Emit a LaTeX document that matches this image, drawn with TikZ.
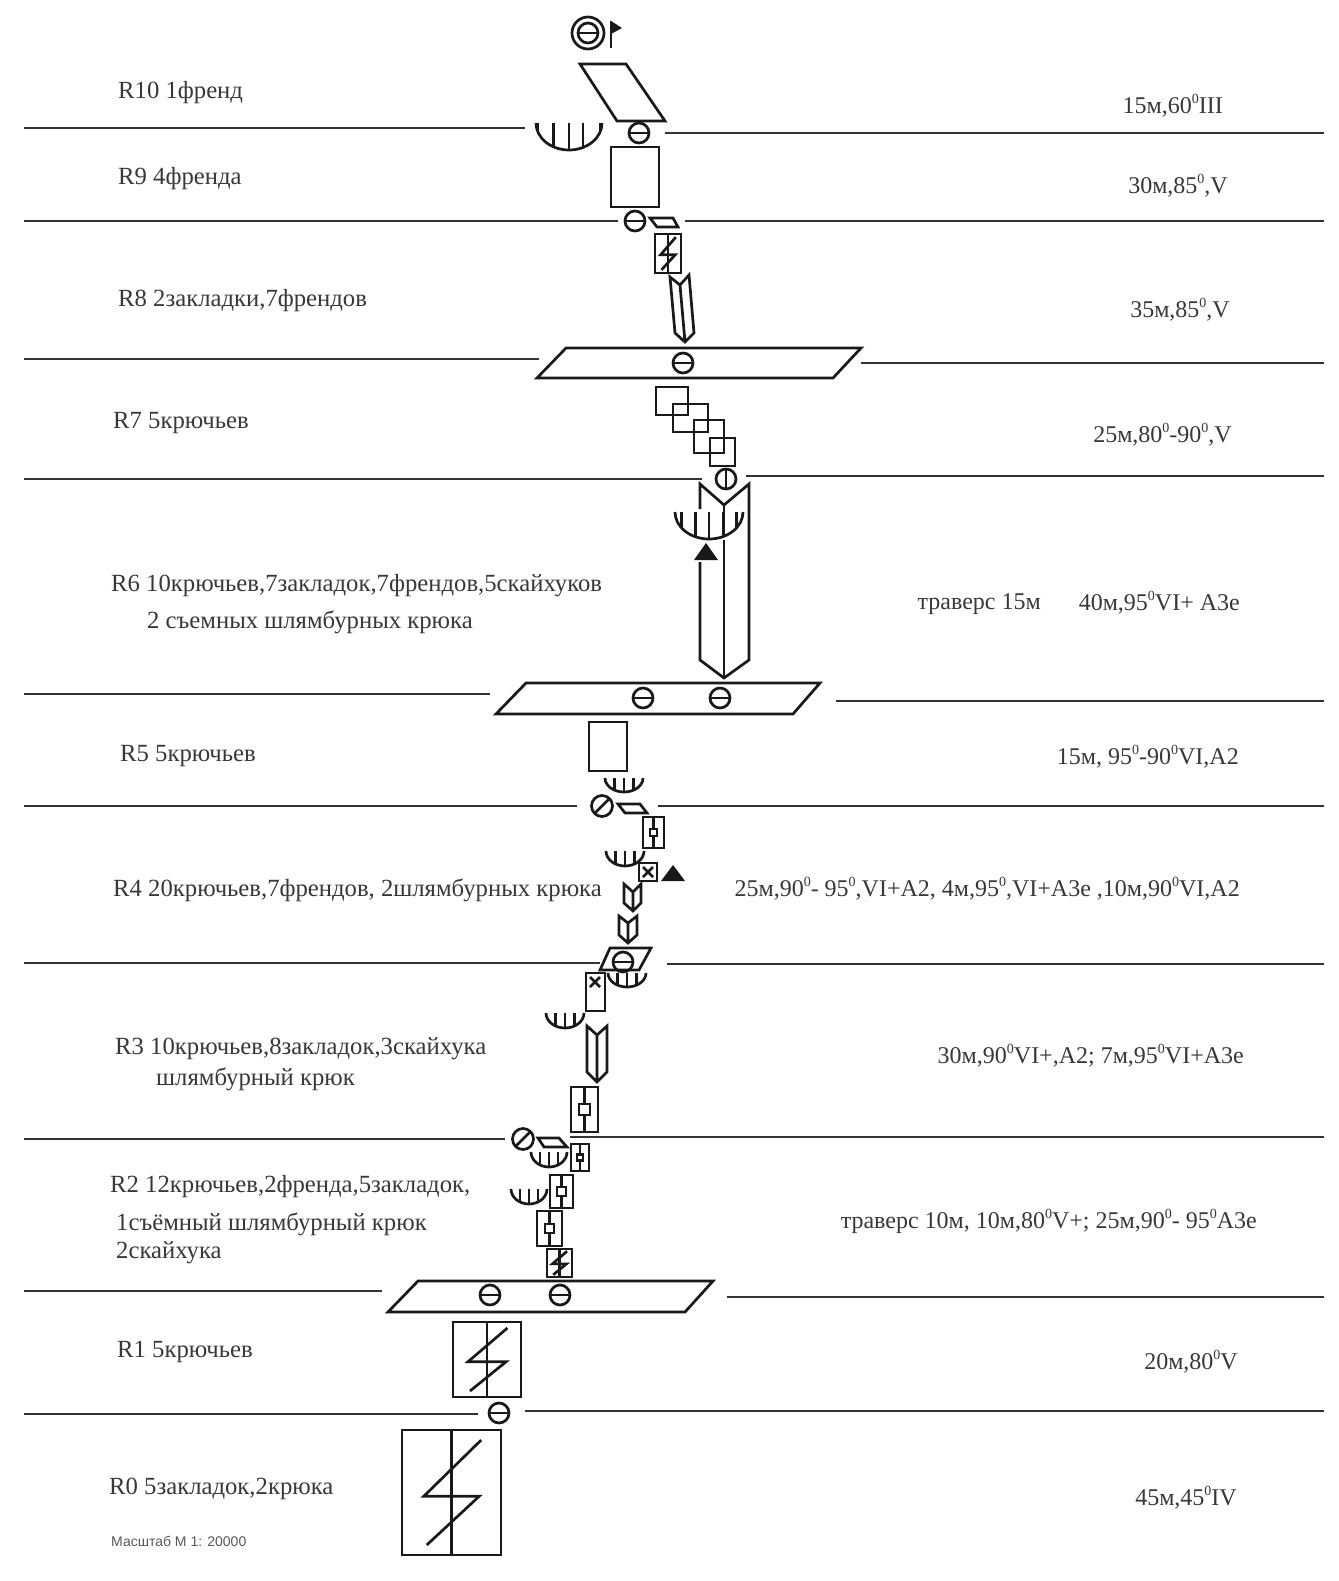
\documentclass[tikz,border=0pt]{standalone}
\usepackage{fontspec}
\setmainfont{Liberation Serif}
\newfontfamily\scalefont{Liberation Sans}
\usetikzlibrary{positioning,calc}
% x,y in reference pixels
\newcommand{\dg}{\raisebox{0.42em}{\fontsize{14}{14}\selectfont 0}}
\newcommand{\piton}[2]{\draw[sym] (#1,#2) circle (10pt); \draw[sym] (#1-10,#2) -- (#1+10,#2);}
\newcommand{\pitonv}[2]{\draw[sym] (#1,#2) circle (10pt); \draw[sym] (#1,#2-10) -- (#1,#2+10);}
\newcommand{\pitons}[2]{\draw[sym] (#1,#2) circle (10.5pt); \draw[sym] (#1-7.5,#2+7.5) -- (#1+7.5,#2-7.5);}
\newcommand{\roof}[5]{% cx, top, half width, depth, ticks
  \draw[sym] (#1-#3,#2) .. controls (#1-#3,#2+0.5523*#4) and (#1-0.5523*#3,#2+#4) .. (#1,#2+#4)
     .. controls (#1+0.5523*#3,#2+#4) and (#1+#3,#2+0.5523*#4) .. (#1+#3,#2);
  \foreach \t in {#5}
    \draw[sym] ({#1+\t*#3},#2) -- ({#1+\t*#3},{#2+#4*sqrt(1-\t*\t)});}
\newcommand{\crack}[4]{% chimney with bolt line
  \draw[sym] (#1,#2) rectangle (#3,#4);
  \draw[sym] ({(#1+#3)/2},#2) -- ({(#1+#3)/2},#4);
  \draw[sym] ({#1+0.8*(#3-#1)},{#2+0.08*(#4-#2)}) -- ({#1+0.22*(#3-#1)},{#2+0.53*(#4-#2)})
     -- ({#1+0.78*(#3-#1)},{#2+0.53*(#4-#2)}) -- ({#1+0.25*(#3-#1)},{#2+0.92*(#4-#2)});}
\newcommand{\plug}[5]{% box, centre line, small square
  \draw[sym] (#1,#2) rectangle (#3,#4);
  \draw[sym] ({(#1+#3)/2},#2) -- ({(#1+#3)/2},#4);
  \draw[sym,fill=white] ({(#1+#3)/2-#5},{(#2+#4)/2-#5}) rectangle ({(#1+#3)/2+#5},{(#2+#4)/2+#5});}
\newcommand{\dihedral}[6]{\draw[sym] #1 -- #2 -- #3 -- #4 -- #5 -- #6 -- cycle #2 -- #5;}
\begin{document}
\begin{tikzpicture}[x=1pt,y=-1pt,
    sym/.style={draw=black!90,line width=2.7pt,line join=miter},
    rule/.style={draw=black!80,line width=1.7pt},
    lbl/.style={anchor=west,inner sep=0pt,text=black!78,font=\fontsize{24.7}{24.7}\selectfont},
    rlbl/.style={anchor=east,inner sep=0pt,text=black!78,font=\fontsize{24}{24}\selectfont}]
  \useasboundingbox[fill=white] (0,0) rectangle (1338,1581);
  % pitch lines, left and right of the route
  \draw[rule] (24,128) -- (525,128);    \draw[rule] (665,133) -- (1324,133);
  \draw[rule] (24,221) -- (618,221);    \draw[rule] (685,221) -- (1324,221);
  \draw[rule] (24,359) -- (539,359);    \draw[rule] (861,363) -- (1324,363);
  \draw[rule] (24,479) -- (702,479);    \draw[rule] (746,476) -- (1324,476);
  \draw[rule] (24,694) -- (490,694);    \draw[rule] (836,701) -- (1324,701);
  \draw[rule] (24,806) -- (577,806);    \draw[rule] (658,806) -- (1324,806);
  \draw[rule] (24,963) -- (600,963);    \draw[rule] (667,964) -- (1324,964);
  \draw[rule] (24,1139) -- (505,1139);  \draw[rule] (570,1137) -- (1324,1137);
  \draw[rule] (24,1291) -- (382,1291);  \draw[rule] (727,1297) -- (1324,1297);
  \draw[rule] (24,1414) -- (478,1414);  \draw[rule] (525,1411) -- (1324,1411);
  % top anchor and flag
  \draw[sym] (588,33) circle (16pt);
  \piton{588}{33}
  \draw[sym] (611,21) -- (611,48);
  \fill[black!90] (611,21) -- (622,28) -- (611,34) -- cycle;
  % R10, R9
  \draw[sym] (580,64) -- (626,64) -- (665,121) -- (617,121) -- cycle;
  \roof{569}{123}{33}{27}{-0.95,-0.47,0,0.42,0.95}
  \piton{639}{133}
  \draw[sym] (611,147) rectangle (659,207);
  \piton{635}{221}
  % R8
  \draw[sym] (650,218) -- (673,218) -- (678,227) -- (657,227) -- cycle;
  \crack{655}{234}{681}{273}
  \dihedral{(670,277)}{(680,285)}{(689,275)}{(694,333)}{(685,342)}{(675,333)}
  \draw[sym] (566,348) -- (861,348) -- (833,378) -- (537,378) -- cycle;
  \piton{683}{363}
  % R7
  \draw[sym] (656,387) rectangle (688,415);
  \draw[sym] (673,404) rectangle (708,432);
  \draw[sym] (694,420) rectangle (724,453);
  \draw[sym] (710,438) rectangle (735,466);
  \pitonv{726}{479}
  % R6
  \draw[sym] (700,509) -- (700,484) -- (724,505) -- (749,484) -- (749,660) -- (724,678) -- (700,660) -- (700,562);
  \draw[sym] (724,505) -- (724,513);
  \draw[sym] (724,540) -- (724,678);
  \roof{709}{512}{34}{27}{-0.8,-0.4,0,0.42,0.8}
  \fill[black!90] (706,543) -- (718,560) -- (694,560) -- cycle;
  \draw[sym] (526,683) -- (820,683) -- (793,714) -- (496,714) -- cycle;
  \piton{643}{698}
  \piton{720}{698}
  % R5
  \draw[sym] (589,722) rectangle (627,771);
  \roof{624}{778}{19}{14}{-0.5,0,0.5}
  \pitons{602}{806}
  \draw[sym] (618,804) -- (640,804) -- (647,813) -- (625,813) -- cycle;
  % R4
  \plug{643}{817}{664}{848}{3.5}
  \roof{625}{851}{19}{15}{-0.5,0,0.5}
  \draw[sym] (639,863) rectangle (657,881);
  \draw[sym] (643,867) -- (653,877) (643,877) -- (653,867);
  \fill[black!90] (673,865) -- (685,881) -- (661,881) -- cycle;
  \dihedral{(624,884)}{(633,892)}{(641,884)}{(641,903)}{(633,911)}{(624,903)}
  \dihedral{(619,916)}{(628,923)}{(637,916)}{(637,935)}{(628,943)}{(619,935)}
  \draw[sym] (610,948) -- (651,948) -- (639,970) -- (600,970) -- cycle;
  \piton{623}{962}
  \roof{627}{973}{19}{14}{-0.5,0,0.5}
  % R3
  \draw[sym] (586,973) rectangle (605,1011);
  \draw[sym] (590,977) -- (600,987) (590,987) -- (600,977);
  \roof{565}{1013}{19}{15}{-0.5,0,0.5}
  \dihedral{(587,1026)}{(597,1035)}{(607,1026)}{(607,1072)}{(597,1082)}{(587,1072)}
  \plug{571}{1087}{598}{1132}{5.5}
  % R2
  \pitons{523}{1139}
  \draw[sym] (538,1138) -- (559,1138) -- (567,1147) -- (544,1147) -- cycle;
  \roof{549}{1152}{18}{15}{-0.5,0,0.5}
  \plug{571}{1144}{589}{1171}{3}
  \plug{550}{1175}{573}{1208}{4.5}
  \roof{529}{1189}{18}{15}{-0.5,0,0.5}
  \plug{537}{1211}{562}{1246}{4.5}
  \crack{547}{1249}{572}{1277}
  \draw[sym] (418,1281) -- (713,1281) -- (685,1312) -- (388,1312) -- cycle;
  \piton{490}{1295}
  \piton{560}{1295}
  % R1, R0
  \crack{453}{1322}{521}{1397}
  \piton{499}{1413}
  \crack{402}{1430}{501}{1555}
  % gear, left
  \node[lbl] (r10) at (118,93) {R10 1френд};
  \node[lbl] (r9) at (118,179) {R9 4френда};
  \node[lbl] (r8) at (118,301) {R8 2закладки,7френдов};
  \node[lbl] (r7) at (113,423) {R7 5крючьев};
  \node[lbl] (r6) at (111,586) {R6 10крючьев,7закладок,7френдов,5скайхуков};
  \node[lbl] (r6b) at (147,622) {2 съемных шлямбурных крюка};
  \node[lbl] (r5) at (120,756) {R5 5крючьев};
  \node[lbl] (r4) at (113,890) {R4 20крючьев,7френдов, 2шлямбурных крюка};
  \node[lbl] (r3) at (115,1049) {R3 10крючьев,8закладок,3скайхука};
  \node[lbl] (r3b) at (156,1079) {шлямбурный крюк};
  \node[lbl] (r2) at (110,1187) {R2 12крючьев,2френда,5закладок,};
  \node[lbl] (r2b) at (116,1224) {1съёмный шлямбурный крюк};
  \node[lbl] (r2c) at (116,1253) {2скайхука};
  \node[lbl] (r1) at (117,1352) {R1 5крючьев};
  \node[lbl] (r0) at (109,1489) {R0 5закладок,2крюка};
  \node[anchor=west,inner sep=0pt,text=black!65,font=\scalefont\fontsize{14}{14}\selectfont] (scale) at (111,1541) {Масштаб М 1: 20000};
  % grades, right
  \node[rlbl] (g10) at (1223,106) {15м,60\dg III};
  \node[rlbl] (g9) at (1228,186) {30м,85\dg,V};
  \node[rlbl] (g8) at (1230,310) {35м,85\dg,V};
  \node[rlbl] (g7) at (1232,435) {25м,80\dg-90\dg,V};
  \node[rlbl] (trav6) at (1041,604) {траверс 15м};
  \node[rlbl] (g6) at (1240,603) {40м,95\dg VI+ А3е};
  \node[rlbl] (g5) at (1239,757) {15м, 95\dg-90\dg VI,A2};
  \node[rlbl] (g4) at (1240,889) {25м,90\dg- 95\dg,VI+A2, 4м,95\dg,VI+A3e ,10м,90\dg VI,A2};
  \node[rlbl] (g3) at (1244,1056) {30м,90\dg VI+,A2; 7м,95\dg VI+A3e};
  \node[rlbl] (g2) at (1257,1221) {траверс 10м, 10м,80\dg V+; 25м,90\dg- 95\dg A3e};
  \node[rlbl] (g1) at (1238,1362) {20м,80\dg V};
  \node[rlbl] (g0) at (1237,1498) {45м,45\dg IV};
\end{tikzpicture}
\end{document}
